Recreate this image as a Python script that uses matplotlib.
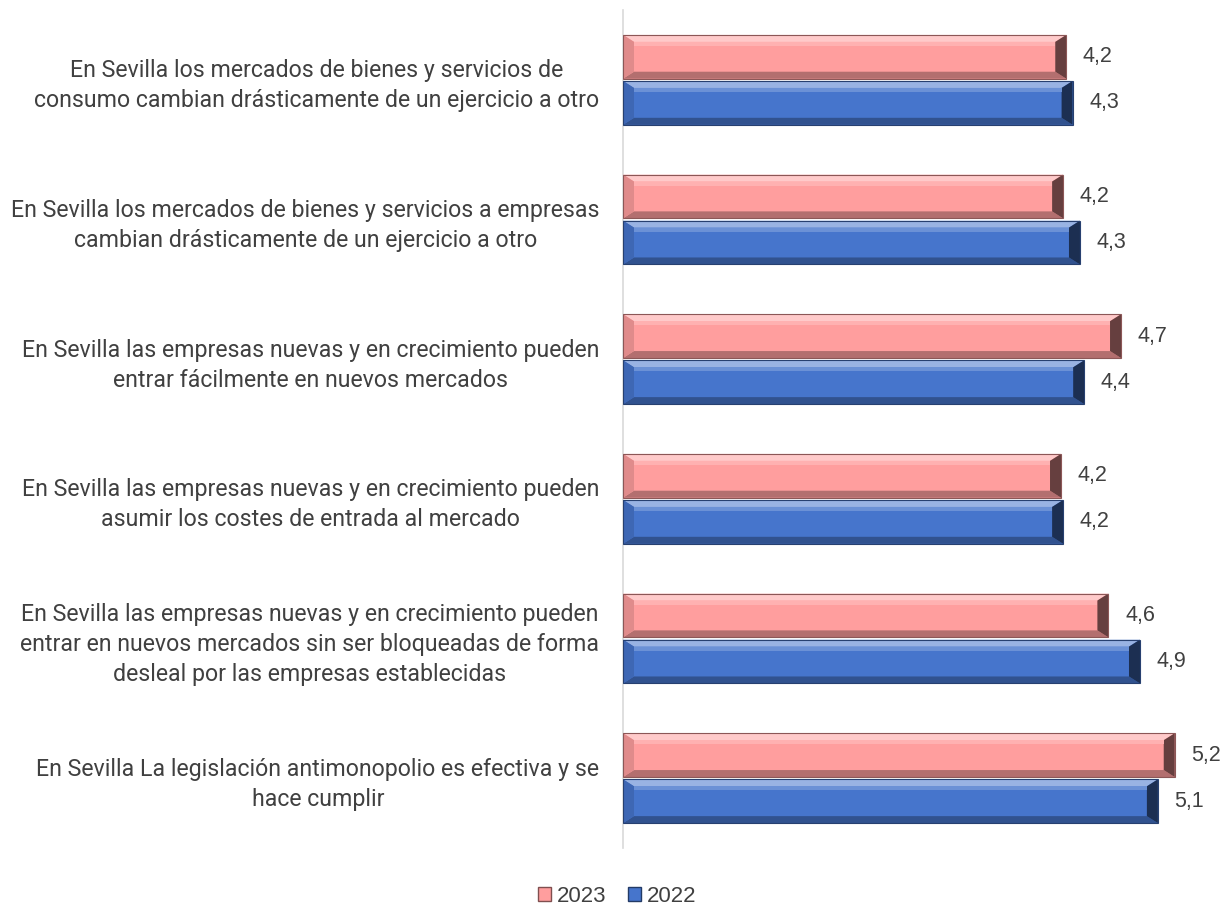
import matplotlib.pyplot as plt
import numpy as np
from matplotlib.patches import Polygon, Patch
from matplotlib.colors import to_rgb

categories = [
    "En Sevilla los mercados de bienes y servicios de\nconsumo cambian drásticamente de un ejercicio a otro",
    "En Sevilla los mercados de bienes y servicios a empresas\ncambian drásticamente de un ejercicio a otro",
    "En Sevilla las empresas nuevas y en crecimiento pueden\nentrar fácilmente en nuevos mercados",
    "En Sevilla las empresas nuevas y en crecimiento pueden\nasumir los costes de entrada al mercado",
    "En Sevilla las empresas nuevas y en crecimiento pueden\nentrar en nuevos mercados sin ser bloqueadas de forma\ndesleal por las empresas establecidas",
    "En Sevilla La legislación antimonopolio es efectiva y se\nhace cumplir",
]
values_2023 = [4.21, 4.18, 4.73, 4.16, 4.61, 5.24]
values_2022 = [4.27, 4.34, 4.38, 4.18, 4.91, 5.08]
series = ["2023", "2022"]

PINK = "#FF9E9E"
BLUE = "#4675CC"
TEXT = "#404040"
NUMFONT = ["Liberation Sans", "DejaVu Sans"]

plt.rcParams["font.family"] = ["Roboto", "DejaVu Sans"]

W, H, DPI = 1226, 905, 100
fig = plt.figure(figsize=(W / DPI, H / DPI), dpi=DPI)
ax_l, ax_r, ax_t, ax_b = 623, 1200, 10, 848
ax = fig.add_axes([ax_l / W, 1 - ax_b / H, (ax_r - ax_l) / W, (ax_b - ax_t) / H])

n = len(categories)
xmax = 5.48
ax.set_xlim(0, xmax)
ax.set_ylim(-0.5, n - 0.5)
px_x = (ax_r - ax_l) / xmax
px_y = (ax_b - ax_t) / n

ypos = np.arange(n)[::-1]
bh = 0.314
off = 0.165


def mix(c, other, t):
    c = np.array(to_rgb(c))
    o = np.array(to_rgb(other))
    return tuple(c * (1 - t) + o * t)


def bevel(ax, rect, base):
    x0, y0 = rect.get_x(), rect.get_y()
    x1, y1 = x0 + rect.get_width(), y0 + rect.get_height()
    dx, dy = 11 / px_x, 7 / px_y
    top = mix(base, "white", 0.45)
    bot = mix(base, "black", 0.30)
    right = mix(base, "black", 0.60)
    left = mix(base, "black", 0.12)
    polys = [
        ([(x0, y1), (x1, y1), (x1 - dx, y1 - dy), (x0 + dx, y1 - dy)], top),
        ([(x0, y0), (x1, y0), (x1 - dx, y0 + dy), (x0 + dx, y0 + dy)], bot),
        ([(x1, y0), (x1, y1), (x1 - dx, y1 - dy), (x1 - dx, y0 + dy)], right),
        ([(x0, y0), (x0, y1), (x0 + dx, y1 - dy), (x0 + dx, y0 + dy)], left),
    ]
    for pts, col in polys:
        ax.add_patch(Polygon(pts, closed=True, facecolor=col, edgecolor="none", zorder=3))
    # soft highlight stripe
    ax.add_patch(Polygon([(x0 + dx, y1 - dy), (x1 - dx, y1 - dy),
                          (x1 - dx, y1 - dy * 1.6), (x0 + dx, y1 - dy * 1.6)],
                         closed=True, facecolor=mix(base, "white", 0.2),
                         edgecolor="none", zorder=3))
    ax.add_patch(Polygon([(x0, y0), (x1, y0), (x1, y1), (x0, y1)], closed=True,
                         facecolor="none", edgecolor=mix(base, "black", 0.45),
                         lw=0.8, zorder=4))


bars23 = ax.barh(ypos + off, values_2023, height=bh, color=PINK, zorder=2)
bars22 = ax.barh(ypos - off, values_2022, height=bh, color=BLUE, zorder=2)

for bars, base, vals in ((bars23, PINK, values_2023), (bars22, BLUE, values_2022)):
    for rect, v in zip(bars, vals):
        bevel(ax, rect, base)
        ax.annotate(f"{v:.1f}".replace(".", ","),
                    (v, rect.get_y() + rect.get_height() / 2),
                    xytext=(12, 0), textcoords="offset points",
                    ha="left", va="center", fontsize=15.5, color=TEXT,
                    family=NUMFONT)

ax.set_yticks(ypos)
ax.set_yticklabels(categories, fontsize=16.7, color=TEXT, multialignment="center",
                   linespacing=1.38)
ax.tick_params(axis="y", length=0, pad=17)
ax.set_xticks([])
for s in ("top", "right", "bottom"):
    ax.spines[s].set_visible(False)
ax.spines["left"].set_color("#D9D9D9")
ax.spines["left"].set_linewidth(1.2)

handles = [Patch(facecolor=PINK, edgecolor=mix(PINK, "black", 0.5), label=series[0]),
           Patch(facecolor=BLUE, edgecolor=mix(BLUE, "black", 0.5), label=series[1])]
leg = fig.legend(handles=handles, loc="center", bbox_to_anchor=(617 / W, 1 - 896 / H),
                 ncol=2, frameon=False, fontsize=16, handlelength=0.6, handleheight=0.6,
                 handletextpad=0.25, columnspacing=1.0, labelcolor=TEXT,
                 prop={"family": NUMFONT, "size": 16})

fig.savefig("out.png", dpi=DPI)
